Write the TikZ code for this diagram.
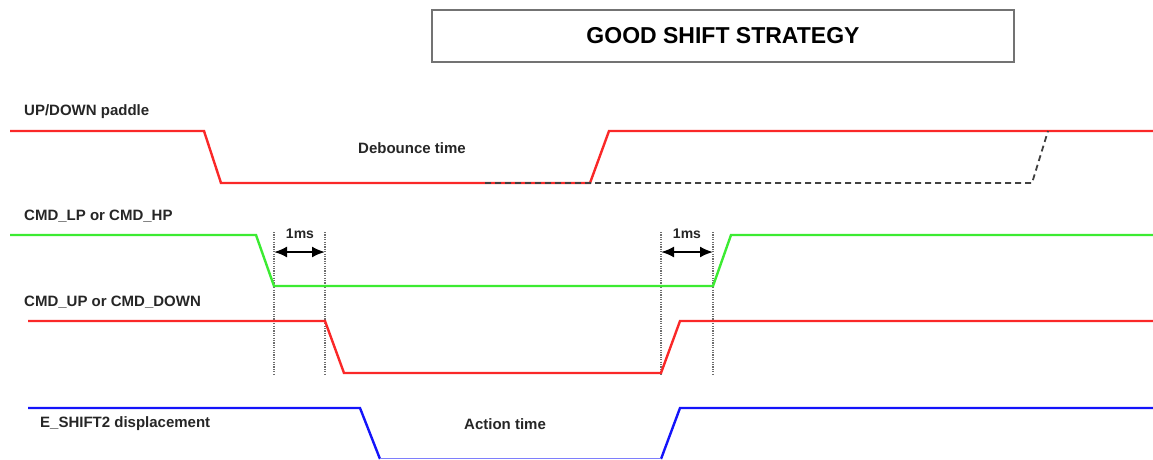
\documentclass[tikz,border=0pt]{standalone}
\usepackage{fontspec}
\setmainfont{Liberation Sans}
\usetikzlibrary{arrows.meta}
\definecolor{sigred}{RGB}{250,40,40}
\definecolor{siggreen}{RGB}{60,235,50}
\definecolor{sigblue}{RGB}{20,20,250}
\definecolor{dotgrey}{RGB}{110,110,110}
\tikzset{
  lbl/.style={anchor=west,inner sep=0pt,font=\fontsize{15}{18}\selectfont\bfseries,text=black!85},
  ms/.style={inner sep=0pt,font=\fontsize{14}{16}\selectfont\bfseries,text=black!85},
  wave/.style={line width=2.4pt,line join=miter},
  guide/.style={dotgrey,line width=1.1pt,dash pattern=on 1.2pt off 1.2pt},
  dim/.style={line width=2pt,{Latex[length=13pt,width=11pt]}-{Latex[length=13pt,width=11pt]}},
  ghost/.style={line width=1.8pt,black!75,dash pattern=on 6pt off 4pt},
}
\begin{document}
\begin{tikzpicture}[x=1pt,y=-1pt]
\useasboundingbox (0,0) rectangle (1153,459);
% title
\node[draw=black!55,line width=1.2pt,minimum width=582pt,minimum height=52pt,inner sep=0pt,
      font=\fontsize{23}{26}\selectfont\bfseries] (title) at (723,36) {GOOD SHIFT STRATEGY};
% labels
\node[lbl] (l1) at (24,112) {UP/DOWN paddle};
\node[lbl] (l2) at (24,216) {CMD\_LP or CMD\_HP};
\node[lbl] (l3) at (24,302) {CMD\_UP or CMD\_DOWN};
\node[lbl] (l4) at (40,424) {E\_SHIFT2 displacement};
\node[lbl] (deb) at (358,148) {Debounce time};
\node[lbl] (act) at (464,424) {Action time};
% guides
\coordinate (g1t) at (274,232); \coordinate (g1b) at (274,374);
\coordinate (g2t) at (325,232); \coordinate (g2b) at (325,374);
\coordinate (g3t) at (661,232); \coordinate (g3b) at (661,374);
\coordinate (g4t) at (713,232); \coordinate (g4b) at (713,374);
\draw[guide] (g1t) -- (g1b);
\draw[guide] (g2t) -- (g2b);
\draw[guide] (g3t) -- (g3b);
\draw[guide] (g4t) -- (g4b);
% 1ms dimensions
\coordinate (a1) at (274,252); \coordinate (a2) at (325,252);
\coordinate (a3) at (661,252); \coordinate (a4) at (713,252);
\draw[dim] (a1) -- (a2);
\draw[dim] (a3) -- (a4);
\node[ms] (ms1) at (300,234) {1ms};
\node[ms] (ms2) at (687,234) {1ms};
% UP/DOWN paddle
\draw[wave,sigred] (10,131) -- (204,131) -- (221,183) -- (590,183) -- (609,131) -- (1153,131);
% dashed alternative of paddle
\draw[ghost] (485,183) -- (1032,183) -- (1048,131);
% CMD_LP / CMD_HP
\draw[wave,siggreen] (10,235) -- (256,235) -- (274,286) -- (713,286) -- (731,235) -- (1153,235);
% CMD_UP / CMD_DOWN
\draw[wave,sigred] (28,321) -- (325,321) -- (344,373) -- (661,373) -- (680,321) -- (1153,321);
% E_SHIFT2 displacement
\draw[wave,sigblue] (28,408) -- (360,408) -- (380,459);
\draw[wave,sigblue] (661,459) -- (680,408) -- (1153,408);
\draw[sigblue!55,line width=1.2pt] (380,458.4) -- (661,458.4);
\end{tikzpicture}
\end{document}
